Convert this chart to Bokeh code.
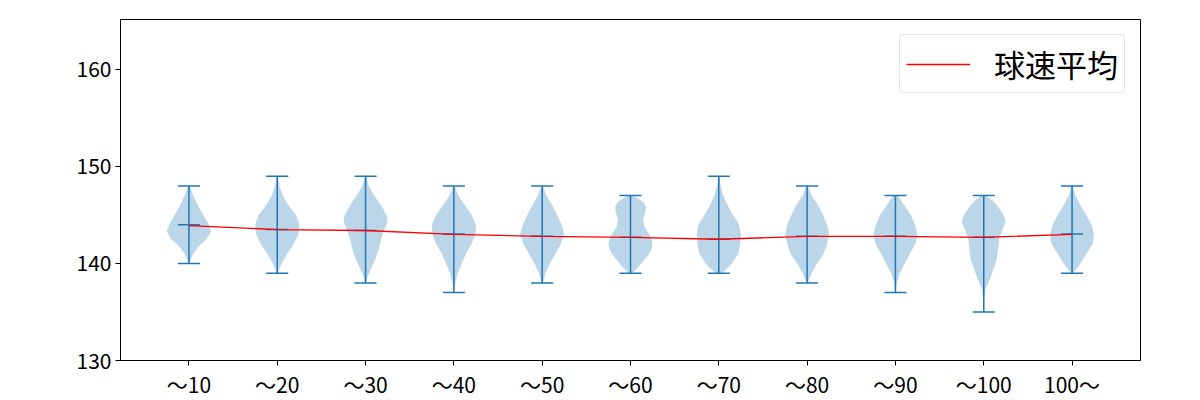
from bokeh.plotting import figure
from bokeh.models import Range1d, FixedTicker, ColumnDataSource, Legend, LegendItem
from bokeh.embed import file_html
from bokeh.resources import INLINE

categories = ["〜10", "〜20", "〜30", "〜40", "〜50", "〜60", "〜70", "〜80", "〜90", "〜100", "100〜"]
mean_speed = [143.9, 143.5, 143.4, 143.0, 142.8, 142.7, 142.5, 142.8, 142.8, 142.7, 143.0]
median_speed = [144.0, 143.5, 143.4, 143.05, 142.8, 142.7, 142.5, 142.8, 142.8, 142.7, 143.05]
min_speed = [140, 139, 138, 137, 138, 139, 139, 138, 137, 135, 139]
max_speed = [148, 149, 149, 148, 148, 147, 149, 148, 147, 147, 148]

# violin density profiles: (speed, relative half-width)
prof_1 = [(148, 0.03), (147, 0.2), (146, 0.4), (145, 0.65), (144, 0.9), (143.3, 1.0), (142.5, 0.8), (142, 0.55), (141.5, 0.35), (141, 0.2), (140.5, 0.1), (140, 0.03)]
prof_2 = [(149, 0.02), (148, 0.1), (147, 0.25), (146, 0.5), (145, 0.85), (144, 1.0), (143, 0.95), (142, 0.75), (141, 0.45), (140, 0.2), (139, 0.02)]
prof_3 = [(149, 0.03), (148, 0.15), (147, 0.4), (146, 0.7), (145, 0.95), (144.3, 1.0), (143.5, 0.85), (142.5, 0.7), (141.5, 0.6), (140.5, 0.45), (139.5, 0.25), (138.5, 0.08), (138, 0.02)]
prof_4 = [(148, 0.03), (147, 0.2), (146, 0.5), (145, 0.8), (144, 1.0), (143, 0.97), (142, 0.8), (141, 0.55), (140, 0.35), (139, 0.18), (138, 0.06), (137, 0.01)]
prof_5 = [(148, 0.03), (147, 0.2), (146, 0.45), (145, 0.68), (144, 0.88), (143, 1.0), (142, 0.85), (141, 0.6), (140, 0.35), (139, 0.15), (138, 0.03)]
prof_6 = [(147, 0.08), (146.7, 0.35), (146.3, 0.6), (145.8, 0.7), (145.2, 0.66), (144.5, 0.57), (143.8, 0.62), (143, 0.85), (142.3, 0.98), (141.8, 1.0), (141, 0.85), (140.3, 0.6), (139.6, 0.35), (139, 0.08)]
prof_7 = [(149, 0.02), (148, 0.08), (147, 0.2), (146, 0.4), (145, 0.65), (144, 0.92), (143, 1.0), (142, 0.97), (141, 0.88), (140, 0.6), (139.3, 0.3), (139, 0.12)]
prof_8 = [(148, 0.03), (147, 0.2), (146, 0.5), (145, 0.72), (144, 0.9), (143, 1.0), (142, 0.9), (141, 0.75), (140, 0.45), (139, 0.2), (138, 0.03)]
prof_9 = [(147, 0.1), (146, 0.4), (145, 0.7), (144, 0.88), (143, 1.0), (142, 0.9), (141, 0.65), (140, 0.42), (139, 0.2), (138, 0.06), (137, 0.01)]
prof_10 = [(147, 0.1), (146.5, 0.4), (146, 0.6), (145, 0.9), (144.3, 1.0), (143.5, 0.85), (142.5, 0.7), (141.5, 0.65), (140.5, 0.6), (139.5, 0.45), (138.5, 0.3), (137.5, 0.1), (136.5, 0.03), (135, 0.01)]
prof_11 = [(148, 0.03), (147, 0.15), (146, 0.38), (145, 0.65), (144, 0.88), (143, 1.0), (142, 0.93), (141, 0.65), (140, 0.38), (139.3, 0.15), (139, 0.04)]
profiles = [prof_1, prof_2, prof_3, prof_4, prof_5, prof_6, prof_7, prof_8, prof_9, prof_10, prof_11]

positions = list(range(1, len(categories) + 1))
HALF = 0.25
CAP = 0.125
C0 = "#1f77b4"
FONT = "Noto Sans CJK JP"

p = figure(frame_width=1020, frame_height=341, output_backend="svg", toolbar_location=None,
           x_range=Range1d(0.225, 11.775), y_range=Range1d(130, 165.15),
           min_border_left=120, min_border_right=60, min_border_top=19, min_border_bottom=38)
p.background_fill_color = "white"
p.border_fill_color = "white"
p.outline_line_color = "black"
p.outline_line_width = 1
p.xgrid.visible = False
p.ygrid.visible = False

xs_list, ys_list = [], []
for pos, prof in zip(positions, profiles):
    vals = [v for v, w in prof]
    ws = [w for v, w in prof]
    right_x = [pos + HALF * w for w in ws]
    left_x = [pos - HALF * w for w in reversed(ws)]
    xs_list.append(right_x + left_x)
    ys_list.append(vals + list(reversed(vals)))
p.patches(xs_list, ys_list, fill_color=C0, fill_alpha=0.3, line_color=None)

src = ColumnDataSource(dict(x=positions, lo=min_speed, hi=max_speed, med=median_speed,
                            xl=[x - CAP for x in positions], xr=[x + CAP for x in positions]))
p.segment(x0="x", y0="lo", x1="x", y1="hi", source=src, line_color=C0, line_width=1.5)
p.segment(x0="xl", y0="lo", x1="xr", y1="lo", source=src, line_color=C0, line_width=1.5)
p.segment(x0="xl", y0="hi", x1="xr", y1="hi", source=src, line_color=C0, line_width=1.5)
p.segment(x0="xl", y0="med", x1="xr", y1="med", source=src, line_color=C0, line_width=1.5)

mean_r = p.line(positions, mean_speed, line_color="red", line_width=1.3)

legend = Legend(items=[LegendItem(label="球速平均", renderers=[mean_r])], location="top_right")
legend.label_text_font = FONT
legend.label_text_font_size = "31px"
legend.label_text_color = "black"
legend.glyph_width = 64
legend.glyph_height = 20
legend.label_height = 20
legend.label_standoff = 24
legend.padding = 6
legend.margin = 15
legend.border_line_color = "#cccccc"
legend.border_line_width = 1
legend.background_fill_alpha = 0.8
if "border_radius" in Legend.properties():
    legend.border_radius = 4
p.add_layout(legend, "center")

p.xaxis.ticker = FixedTicker(ticks=positions)
p.xaxis.major_label_overrides = {pos: lab for pos, lab in zip(positions, categories)}
p.yaxis.ticker = FixedTicker(ticks=[130, 140, 150, 160])
for ax in (p.xaxis, p.yaxis):
    ax.axis_line_color = "black"
    ax.major_tick_line_color = "black"
    ax.major_tick_out = 5
    ax.major_tick_in = 0
    ax.minor_tick_line_color = None
    ax.major_label_text_font = FONT
    ax.major_label_text_font_size = "21px"
    ax.major_label_text_color = "black"
    ax.major_label_standoff = 4
p.xaxis.major_label_standoff = 3

open("out.html", "w").write(file_html(p, INLINE))
